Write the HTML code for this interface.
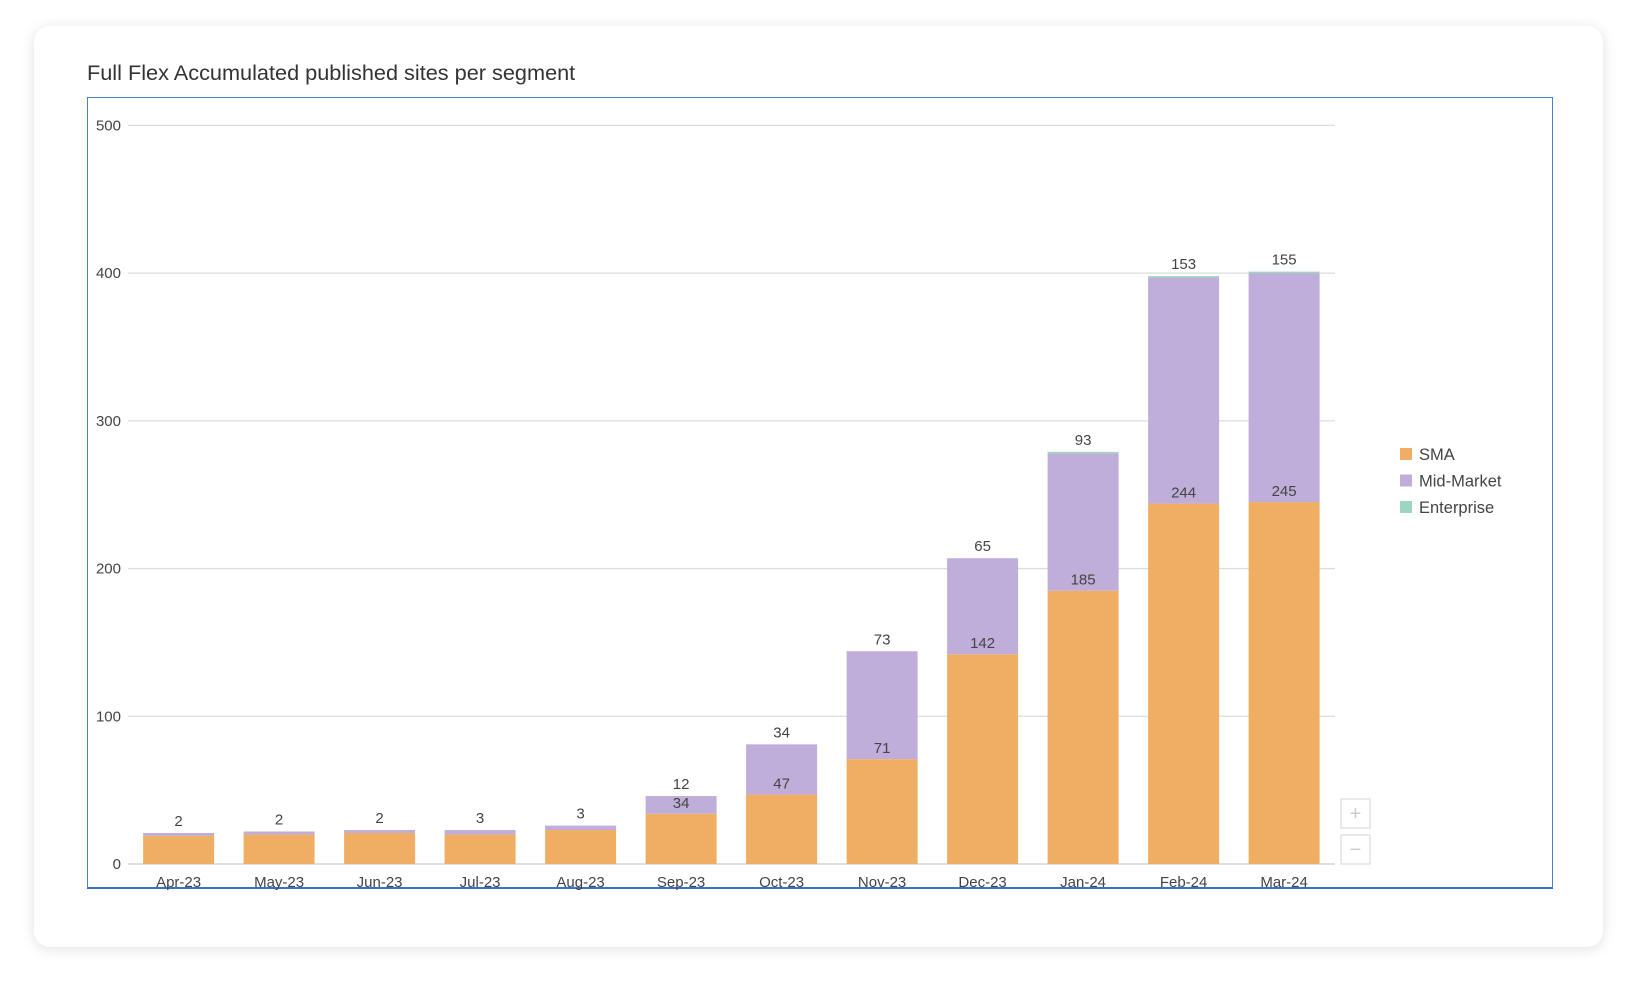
<!DOCTYPE html>
<html><head><meta charset="utf-8"><style>
body{margin:0;width:1638px;height:990px;background:#fff;font-family:"Liberation Sans",sans-serif;overflow:hidden}
#card{position:absolute;left:34px;top:26px;width:1569px;height:921px;background:#fff;border-radius:16px;box-shadow:0 2px 14px rgba(0,0,0,0.12)}
#title{position:absolute;left:87px;top:60px;font-size:21.7px;color:#333}
#plot{position:absolute;left:87px;top:97px;width:1466px;height:792px;border:1px solid #4a7fd4;border-bottom:2px solid #3b70c9;box-sizing:border-box}
svg{position:absolute;left:0;top:0}
</style></head><body>
<div id="card"></div>
<div id="title">Full Flex Accumulated published sites per segment</div>
<div id="plot"></div>
<svg id="chart" width="1638" height="990"></svg>
<script>
const categories=["Apr-23","May-23","Jun-23","Jul-23","Aug-23","Sep-23","Oct-23","Nov-23","Dec-23","Jan-24","Feb-24","Mar-24"];
const smaValues=[19,20,21,20,23,34,47,71,142,185,244,245];
const midValues=[2,2,2,3,3,12,34,73,65,93,153,155];
const entValues=[0,0,0,0,0,0,0,0,0,1,1,1];
const yTicks=[0,100,200,300,400,500];
const seriesNames=["SMA","Mid-Market","Enterprise"];
const colors=["#f0ae64","#bfaed9","#9dd6c0"];
const NS="http://www.w3.org/2000/svg";
const svg=document.getElementById('chart');
const x0=128,x1=1335,y0=864,yTop=125.4,ymax=500;
const y=v=>y0-(v/ymax)*(y0-yTop);
const step=100.5,bw=71;
const xc=i=>178.6+i*step;
function mk(t,a,p){const e=document.createElementNS(NS,t);for(const k in a)e.setAttribute(k,a[k]);(p||svg).appendChild(e);return e;}
yTicks.forEach(t=>{
 const l=mk('line',{x1:x0,x2:x1,y1:y(t),y2:y(t),stroke:t===0?'#ccc':'#ddd','stroke-width':1.3});
 
 
 const tx=mk('text',{x:121,y:y(t)+5,'text-anchor':'end','font-size':15,fill:'#444'});
 tx.textContent=t;
 
 
});
categories.forEach((c,i)=>{
 const cx=xc(i);let base=0;
 [smaValues[i],midValues[i],entValues[i]].forEach((v,s)=>{
  if(v<=0)return;
  const r=mk('rect',{x:cx-bw/2,y:y(base+v),width:bw,height:y(base)-y(base+v),fill:colors[s]});
  
  
  base+=v;
 });
 const sma=smaValues[i],mid=midValues[i];
 if(sma>=30){
  const t=mk('text',{x:cx,y:y(sma)-6,'text-anchor':'middle','font-size':15,fill:'#444'});
  t.textContent=sma;
  
  
 }
 const t2=mk('text',{x:cx,y:y(sma+mid+entValues[i])-7,'text-anchor':'middle','font-size':15,fill:'#444'});
 t2.textContent=mid;
 
 
 const xl=mk('text',{x:cx,y:887,'text-anchor':'middle','font-size':15,fill:'#444'});
 xl.textContent=c;
 
 
});
seriesNames.forEach((n,s)=>{
 const g=mk('g',{});
 
 
 mk('rect',{x:1400,y:448+s*26.5,width:12,height:12,fill:colors[s]},g);
 const t=mk('text',{x:1419,y:460+s*26.5,'font-size':16.5,fill:'#444'},g);
 t.textContent=n;
});
[["zoom-in-button","+",799],["zoom-out-button","\u2212",835]].forEach(([n,sym,yy])=>{
 const g=mk('g',{});
 
 
 mk('rect',{x:1341,y:yy,width:29,height:29,fill:'#fff',stroke:'#ddd','stroke-width':1.2},g);
 const t=mk('text',{x:1355.5,y:yy+21,'text-anchor':'middle','font-size':20,fill:'#ccc'},g);
 t.textContent=sym;
});
</script>
</body></html>
